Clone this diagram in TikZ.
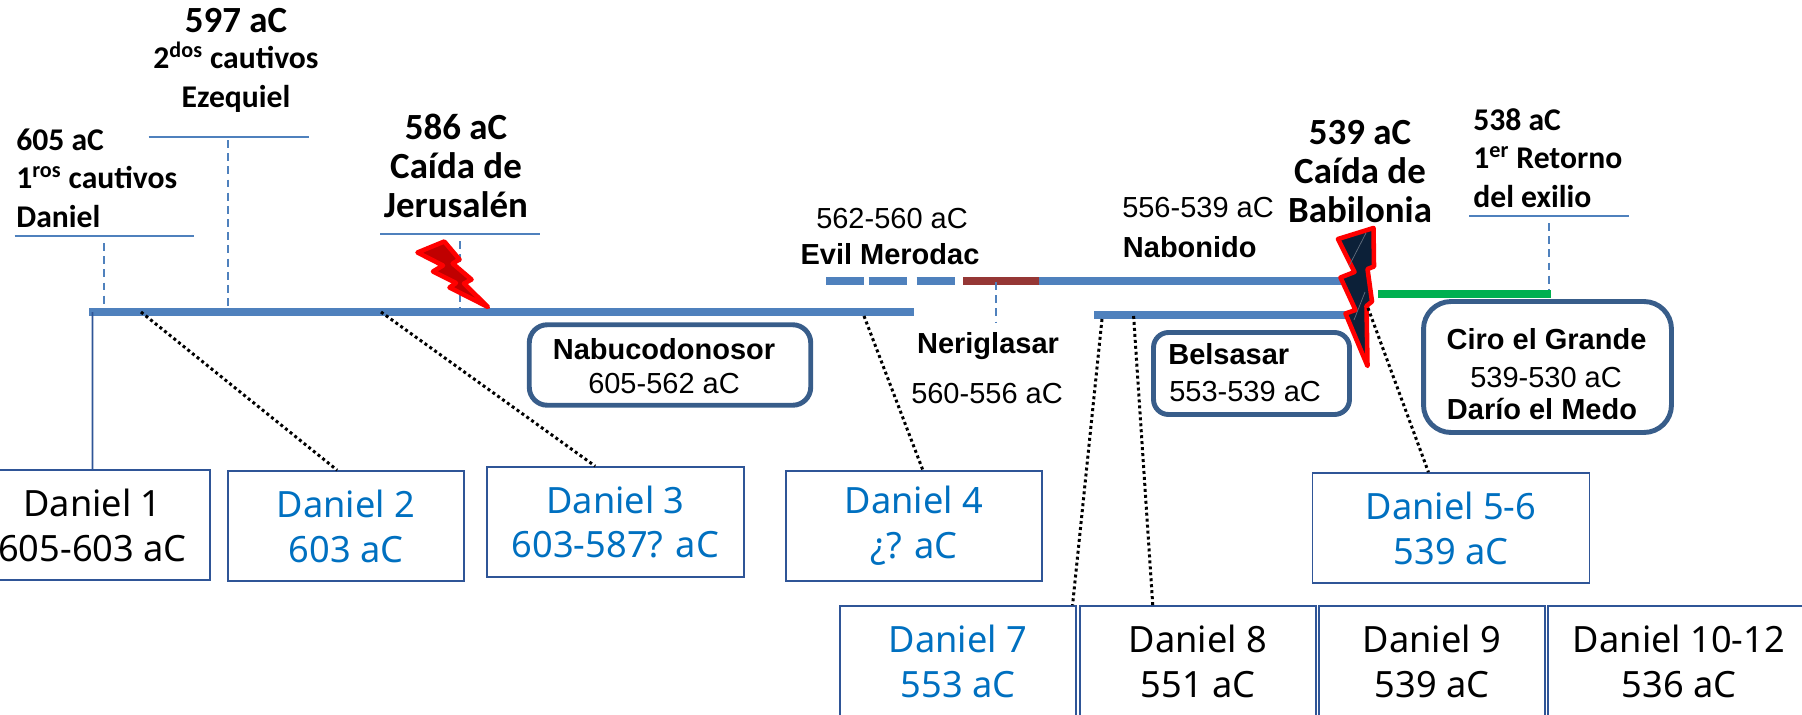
\documentclass[tikz,border=0pt]{standalone}
\usepackage{fontspec}
\setmainfont{Liberation Sans}
\newfontfamily\calfont{Carlito}
\newfontfamily\danfont{Noto Sans}
\usetikzlibrary{arrows}
\definecolor{barblue}{HTML}{4F81BD}
\definecolor{boxblue}{HTML}{385D8A}
\definecolor{danblue}{HTML}{2F5597}
\definecolor{textblue}{HTML}{0070C0}
\definecolor{barred}{HTML}{953735}
\definecolor{bargreen}{HTML}{00B050}
\definecolor{boltred}{HTML}{FF0000}
\definecolor{boltdark}{HTML}{C00000}
\definecolor{boltnavy}{HTML}{0C2038}

\tikzset{
  bar/.style={line width=4.5pt,color=barblue},
  rule/.style={line width=1.2pt,color=barblue},
  tick/.style={line width=.9pt,color=barblue,dash pattern=on 4.5pt off 3pt},
  link/.style={line width=1.7pt,dash pattern=on 1.7pt off 1.7pt},
  bolt/.style={line width=2.6pt,draw=boltred,line join=round},
  daniel/.style={draw=danblue,line width=1pt,inner sep=0pt,minimum height=2.2cm,align=center,
    font=\danfont\fontsize{20.6}{25.6}\selectfont},
  danielblue/.style={daniel,text=textblue},
  roundbox/.style={draw=boxblue,line width=2.8pt,inner sep=0pt},
  biglabel/.style={inner sep=0pt,align=center,anchor=base,font=\calfont\bfseries\fontsize{21}{22}\selectfont},
  smalllabel/.style={inner sep=0pt,align=left,anchor=base west,font=\calfont\bfseries\fontsize{18}{21.8}\selectfont},
  reign/.style={inner sep=0pt,anchor=base,font=\fontsize{16.5}{20}\selectfont},
  king/.style={reign,font=\bfseries\fontsize{16.5}{20}\selectfont}
}

\begin{document}
\begin{tikzpicture}[x=0.02cm,y=-0.02cm]
\useasboundingbox (0,0) rectangle (1802,714);
\clip (0,0) rectangle (1802,714);

% timeline bars
\draw [bar] (89,312) -- (914,312);
\draw [bar] (826,281) -- (864,281);
\draw [bar] (868.5,281) -- (906.7,281);
\draw [bar] (916.7,281) -- (955,281);
\draw [bar] (1039,281) -- (1345,281);
\draw [bar,color=barred] (963,281) -- (1039,281);
\draw [bar] (1094.4,315) -- (1345,315);
\draw [bar,color=bargreen] (1378,294) -- (1551,294);

% rules under the dates
\draw [rule] (14.5,236) -- (194,236);
\draw [rule] (148.5,137) -- (308.5,137);
\draw [rule] (380,234) -- (540,234);
\draw [rule] (1469,216) -- (1629,216);

\coordinate (t605a) at (104,243);
\coordinate (t605b) at (104,308);
\coordinate (t597a) at (228,140);
\coordinate (t597b) at (228,308);
\coordinate (t586a) at (460,241);
\coordinate (t586b) at (460,308);
\coordinate (t560a) at (996,282);
\coordinate (t560b) at (996,323);
\coordinate (t538a) at (1549,223);
\coordinate (t538b) at (1549,290);
\draw [tick] (t605a) -- (t605b);
\draw [tick] (t597a) -- (t597b);
\draw [tick] (t586a) -- (t586b);
\draw [tick] (t560a) -- (t560b);
\draw [tick] (t538a) -- (t538b);

% lightning bolts
\draw [bolt,fill=boltdark] (444.3,241.5) -- (459.5,259.5) -- (452.7,263.5) -- (471.5,279.5) -- (464,283.5)
  -- (488,307) -- (449.5,287.5) -- (456,283) -- (433,271.5) -- (443,265.5) -- (417.5,252.5) -- cycle;
\draw [bolt,fill=boltnavy] (1338,239) -- (1373.5,228) -- (1374,266.5) -- (1367.5,269) -- (1372,301.5) -- (1366.5,306)
  -- (1367.5,366) -- (1345.5,313.5) -- (1355.5,310) -- (1340.5,277.5) -- (1354.5,272) -- cycle;
\draw [white!35!boltnavy,line width=.4pt] (1366,233) -- (1349,266);
\draw [white!35!boltnavy,line width=.4pt] (1365,292) -- (1354,320);

% boxes of the chapters
\node [daniel] (dan1) at (92.5,525) [minimum width=4.7cm] {Daniel 1\\605-603 aC};
\node [danielblue] (dan2) at (346,526) [minimum width=4.73cm] {Daniel 2\\603 aC};
\node [danielblue] (dan3) at (615.5,522) [minimum width=5.14cm] {Daniel 3\\603-587? aC};
\node [danielblue] (dan4) at (914,526) [minimum width=5.13cm] {Daniel 4\\¿? aC};
\node [danielblue] (dan56) at (1451,528) [minimum width=5.54cm] {Daniel 5-6\\539 aC};
\node [danielblue] (dan7) at (958,661) [minimum width=4.72cm] {Daniel 7\\553 aC};
\node [daniel] (dan8) at (1198,661) [minimum width=4.72cm] {Daniel 8\\551 aC};
\node [daniel] (dan9) at (1432,661) [minimum width=4.51cm] {Daniel 9\\539 aC};
\node [daniel] (dan10) at (1679,661) [minimum width=5.24cm] {Daniel 10-12\\536 aC};

% links from the bars to the boxes
\coordinate (s1) at (92.6,312);
\coordinate (s2) at (141,312);
\coordinate (s3) at (381,312);
\coordinate (s4) at (864,316);
\coordinate (s7) at (1102,319);
\coordinate (s8) at (1133.6,316);
\coordinate (s56) at (1368,308);
\draw [danblue,line width=1pt] (s1) -- (dan1.north);
\draw [link] (s2) -- (dan2.99);
\draw [link] (s3) -- (dan3.110);
\draw [link] (s4) -- (dan4.81);
\draw [link] (s7) -- (dan7.26);
\draw [link] (s8) -- (dan8.129);
\draw [link] (s56) -- (dan56.112);

% kings
\node [roundbox,minimum width=5.63cm,minimum height=1.61cm,rounded corners=.36cm] (nabu) at (670,365) {};
\node [roundbox,minimum width=3.92cm,minimum height=1.64cm,rounded corners=.3cm] (bels) at (1251.5,373.5) {};
\node [roundbox,minimum width=4.96cm,minimum height=2.62cm,rounded corners=.55cm] (ciro) at (1547.5,367) {};

\node [king] (nabuname) at (664,359) {Nabucodonosor};
\node [reign] (nabuyears) at (664,393) {605-562 aC};
\node [king,anchor=base west] (belsname) at (1168,364) {Belsasar};
\node [reign,anchor=base west] (belsyears) at (1169,401) {553-539 aC};
\node [king] (cironame) at (1546.5,349) {Ciro el Grande};
\node [reign] (ciroyears) at (1546,387) {539-530 aC};
\node [king] (darioname) at (1542,419) {Darío el Medo};
\node [reign] (evilyears) at (892,228) {562-560 aC};
\node [king] (evilname) at (890,264) {Evil Merodac};
\node [reign] (nabonyears) at (1198,217) {556-539 aC};
\node [king,anchor=base west] (nabonname) at (1122.6,257) {Nabonido};
\node [king] (nername) at (988,353) {Neriglasar};
\node [reign] (neryears) at (987,403) {560-556 aC};

% dates
\node [smalllabel] (d605) at (16,227) {605 aC\\1\textsuperscript{ros} cautivos\\Daniel};
\node [biglabel,font=\calfont\bfseries\fontsize{18}{22}\selectfont] (d597) at (236,107) {2\textsuperscript{dos} cautivos\\Ezequiel};
\node [biglabel] (d597y) at (236,32) {597 aC};
\node [biglabel] (d586) at (456,217) {586 aC\\Caída de\\Jerusalén};
\node [biglabel] (d539) at (1360,222) {539 aC\\Caída de\\Babilonia};
\node [smalllabel] (d538) at (1473,207) {538 aC\\1\textsuperscript{er} Retorno\\del exilio};
\end{tikzpicture}
\end{document}
